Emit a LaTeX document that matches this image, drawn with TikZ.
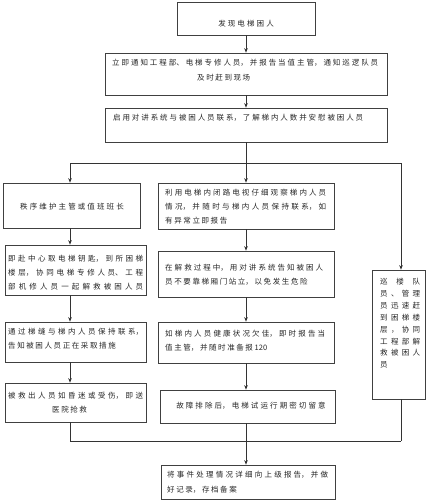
\documentclass[tikz,border=0pt]{standalone}
\usepackage{fontspec}
\setmainfont{Noto Sans CJK SC}
\XeTeXlinebreaklocale "zh"
\XeTeXlinebreakskip=1.6pt plus 2pt
\usetikzlibrary{arrows.meta,fit}
\newcommand{\myrowline}[1]{\leavevmode\hbox to 40pt{#1}}
\newcommand{\myfull}{\hskip 0pt plus -1fil\mbox{}}
\newcommand{\mywidefont}{\fontsize{7.5}{14}\selectfont\XeTeXlinebreakskip 2.1pt\relax}
\begin{document}
\begin{tikzpicture}[x=1pt,y=-1pt,
  box/.style={draw=black!75, line width=0.7pt, inner sep=0pt},
  txt/.style={inner sep=0pt, font=\fontsize{7.5}{14}\selectfont, text=black!85},
  wide/.style={txt, font=\mywidefont, text width=180pt, align=center},
  jt/.style={txt, align=justify, anchor=north west},
  link/.style={draw=black!80, line width=0.7pt},
  arr/.style={link, -{Stealth[length=4.5pt,width=3.6pt]}}]
\useasboundingbox (0,0) rectangle (427,500);

% boxes
\node[box, fit={(177,2) (315,35)}] (B1) {};
\node[box, fit={(105,53) (387,95)}] (B2) {};
\node[box, fit={(105,108) (387,142)}] (B3) {};
\node[box, fit={(3,183) (140,228)}] (L1) {};
\node[box, fit={(5,245) (146,295)}] (L2) {};
\node[box, fit={(5,322) (146,362)}] (L3) {};
\node[box, fit={(5,383) (146,422)}] (L4) {};
\node[box, fit={(158,183) (334,229)}] (M1) {};
\node[box, fit={(158,251) (334,297)}] (M2) {};
\node[box, fit={(158,322) (334,363)}] (M3) {};
\node[box, fit={(160,390) (335,423)}] (M4) {};
\node[box, fit={(372,270) (425,399)}] (R) {};
\node[box, fit={(161,465) (335,499)}] (E) {};

% texts
\node[wide] (t1) at (246,24) {发现电梯困人};
\node[jt, text width=266pt, font=\fontsize{7.5}{15}\selectfont] (t2) at (112,59.2)
  {立即通知工程部、电梯专修人员，并报告当值主管，通知巡逻队员\linebreak\hspace*{85pt}及时赶到现场};
\node[jt, text width=250pt] (t3) at (113,114.2)
  {启用对讲系统与被困人员联系，了解梯内人数并安慰被困人员\myfull};
\node[wide] (t4) at (72,207) {秩序维护主管或值班班长};
\node[jt, text width=135pt] (t5) at (8,255.2)
  {即赴中心取电梯钥匙，到所困梯\linebreak 楼层，协同电梯专修人员、工程\linebreak 部机修人员一起解救被困人员\myfull};
\node[jt, text width=135pt] (t6) at (8,328.2)
  {通过梯缝与梯内人员保持联系，\linebreak 告知被困人员正在采取措施};
\node[jt, text width=135pt] (t7) at (8,392.2)
  {被救出人员如昏迷或受伤，即送\linebreak\hspace*{44pt}医院抢救};
\node[jt, text width=161pt] (t8) at (165,189.2)
  {利用电梯内闭路电视仔细观察梯内人员\linebreak 情况，并随时与梯内人员保持联系，如\linebreak 有异常立即报告};
\node[jt, text width=158pt] (t9) at (165,264.2)
  {在解救过程中，用对讲系统告知被困人\linebreak 员不要靠梯厢门站立，以免发生危险};
\node[jt, text width=160pt] (t10) at (165,330.2)
  {如梯内人员健康状况欠佳，即时报告当\linebreak 值主管，并随时准备报 120};
\node[wide] (t11) at (251,406) {故障排除后，电梯试运行期密切留意};
\node[jt, text width=161pt, font=\fontsize{7.5}{15}\selectfont] (t12) at (167,471.2)
  {将事件处理情况详细向上级报告，并做\linebreak 好记录，存档备案};
\node[txt, anchor=north west, text width=41pt, align=left, font=\fontsize{7.5}{11.9}\selectfont] (t13) at (380,278)
  {\myrowline{巡\hfil 楼\hfil 队}\\
   \myrowline{员\hfil 、\hfil 管\hfil 理}\\
   \myrowline{员\hfil 迅\hfil 速\hfil 赶}\\
   \myrowline{到\hfil 困\hfil 梯\hfil 楼}\\
   \myrowline{层\hfil ，\hfil 协\hfil 同}\\
   \myrowline{工\hfil 程\hfil 部\hfil 解}\\
   \myrowline{救\hfil 被\hfil 困\hfil 人}\\
   \myrowline{员\hfil}};

% connectors
\coordinate (ax) at (246,0);
\coordinate (lx) at (70,0);
\coordinate (rx) at (401,0);
\coordinate (br) at (0,163);
\coordinate (hb) at (0,441);

\draw[arr] (ax |- B1.south) -- (ax |- B2.north);
\draw[arr] (ax |- B2.south) -- (ax |- B3.north);
\draw[link] (ax |- B3.south) -- (ax |- br);
\draw[link] (lx |- br) -- (rx |- br);
\draw[arr] (lx |- br) -- (lx |- L1.north);
\draw[arr] (ax |- br) -- (ax |- M1.north);
\draw[arr] (rx |- br) -- (rx |- R.north);
\draw[arr] (lx |- L1.south) -- (lx |- L2.north);
\draw[arr] (lx |- L2.south) -- (lx |- L3.north);
\draw[arr] (lx |- L3.south) -- (lx |- L4.north);
\draw[arr] (ax |- M1.south) -- (ax |- M2.north);
\draw[arr] (ax |- M2.south) -- (ax |- M3.north);
\draw[arr] (ax |- M3.south) -- (ax |- M4.north);
\draw[link] (lx |- L4.south) -- (lx |- hb);
\draw[link] (ax |- M4.south) -- (ax |- hb);
\draw[link] (rx |- R.south) -- (rx |- hb);
\draw[link] (lx |- hb) -- (rx |- hb);
\draw[arr] (ax |- hb) -- (ax |- E.north);
\end{tikzpicture}
\end{document}
